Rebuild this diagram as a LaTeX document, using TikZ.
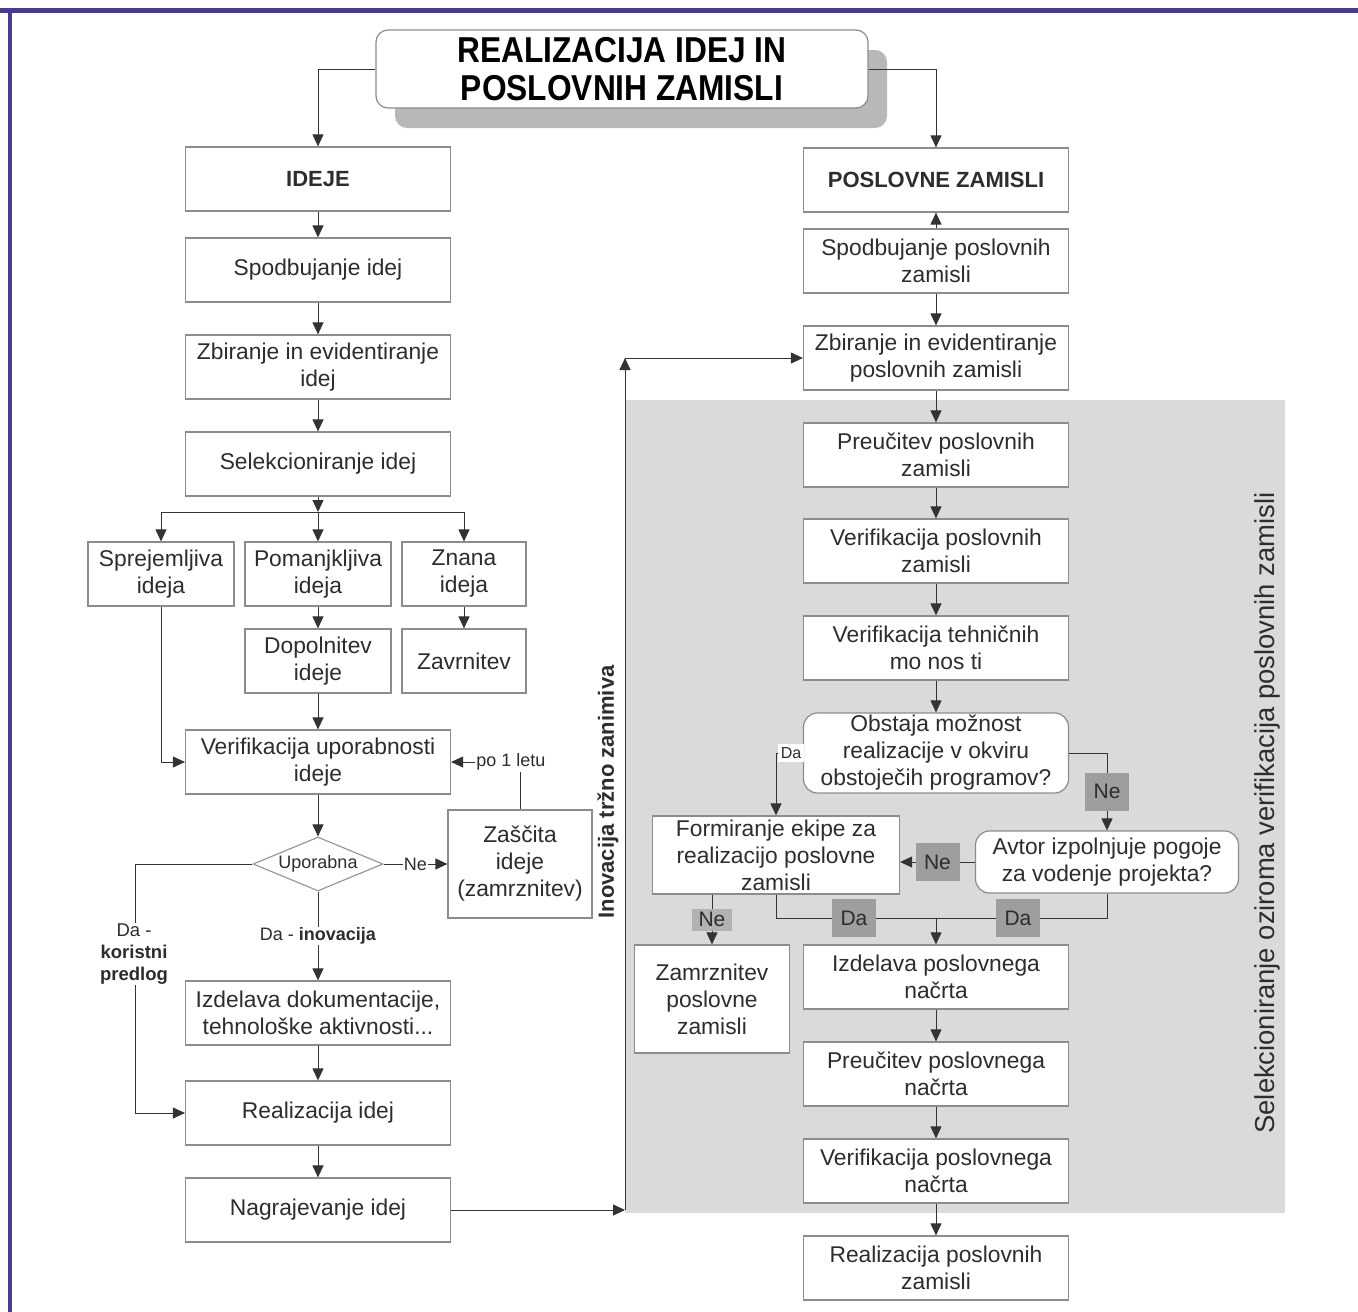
\documentclass[tikz,border=0pt]{standalone}
\usepackage{fontspec}
\setmainfont{Liberation Sans}
\newfontfamily\titlefont[FakeStretch=0.88]{Liberation Sans}
\usetikzlibrary{arrows.meta,shapes.geometric,shadows}
\definecolor{txt}{RGB}{45,45,45}
\definecolor{framecol}{RGB}{70,60,150}
\definecolor{panel}{RGB}{218,218,221}
\definecolor{taggray}{RGB}{158,158,158}
\begin{document}
\begin{tikzpicture}[x=1pt,y=-1pt,
    box/.style={draw=black!45,line width=1.2pt,fill=white,text=txt,align=center,
      minimum width=265pt,minimum height=64pt,inner sep=1pt,font=\fontsize{22.8}{27}\selectfont},
    sbox/.style={box,minimum width=146pt},
    rbox/.style={box,rounded corners=14pt},
    arr/.style={draw=black!80,line width=1pt,-{Triangle[width=11pt,length=12pt]}},
    con/.style={draw=black!80,line width=1pt},
    lab/.style={fill=white,text=txt,inner sep=1pt,font=\fontsize{18}{21}\selectfont},
    tag/.style={fill=taggray,text=txt,minimum width=44pt,minimum height=38pt,inner sep=1pt,
      font=\fontsize{21}{22}\selectfont}]
  \useasboundingbox (0,0) rectangle (1358,1312);
  \fill[white] (0,0) rectangle (1358,1312);
  \fill[panel] (625,400) rectangle (1285,1213);
  \draw[framecol,line width=5pt] (0,10) -- (1358,10);
  \draw[framecol,line width=4pt] (10,10) -- (10,1312);

  \node[draw=black!45,line width=1.2pt,fill=white,rounded corners=12pt,
    minimum width=492pt,minimum height=78pt,align=center,
    font=\titlefont\bfseries\fontsize{36}{38}\selectfont,
    drop shadow={shadow xshift=19pt,shadow yshift=-20pt,fill=black!28,opacity=1}]
    (title) at (622,69) {REALIZACIJA IDEJ IN\\POSLOVNIH ZAMISLI};

  \node[box,font=\bfseries\fontsize{22}{27}\selectfont] (ideje) at (318,179) {IDEJE};
  \node[box] (spi) at (318,270) {Spodbujanje idej};
  \node[box] (zbi) at (318,367) {Zbiranje in evidentiranje\\idej};
  \node[box] (sel) at (318,464) {Selekcioniranje idej};
  \node[sbox] (sprej) at (161,574) {Sprejemljiva\\ideja};
  \node[sbox] (pom) at (318,574) {Pomanjkljiva\\ideja};
  \node[box,minimum width=124pt] (znana) at (464,574) {Znana\\ideja};
  \node[sbox] (dop) at (318,661) {Dopolnitev\\ideje};
  \node[box,minimum width=124pt] (zav) at (464,661) {Zavrnitev};
  \node[box] (ver) at (318,762) {Verifikacija uporabnosti\\ideje};
  \node[diamond,draw=black!40,line width=1.2pt,fill=white,aspect=2.4,inner sep=1pt,
    minimum width=130pt,minimum height=54pt,text=txt,font=\fontsize{18}{20}\selectfont]
    (dia) at (318,864) {Uporabna};
  \node[box,minimum width=144pt,minimum height=108pt] (zas) at (520,864) {Zaščita\\ideje\\(zamrznitev)};
  \node[lab] (polet) at (511,762) {po 1 letu};
  \node[box] (izd) at (318,1013) {Izdelava dokumentacije,\\tehnološke aktivnosti...};
  \node[box] (real) at (318,1113) {Realizacija idej};
  \node[box] (nag) at (318,1210) {Nagrajevanje idej};

  \node[box,font=\bfseries\fontsize{22}{27}\selectfont] (pz) at (936,180) {POSLOVNE ZAMISLI};
  \node[box] (spz) at (936,261) {Spodbujanje poslovnih\\zamisli};
  \node[box] (zpz) at (936,358) {Zbiranje in evidentiranje\\poslovnih zamisli};
  \node[box] (prz) at (936,455) {Preučitev poslovnih\\zamisli};
  \node[box] (vpz) at (936,551) {Verifikacija poslovnih\\zamisli};
  \node[box] (vtm) at (936,648) {Verifikacija tehničnih\\mo nos ti};
  \node[rbox,minimum height=80pt] (obs) at (936,753) {Obstaja možnost\\realizacije v okviru\\obstoječih programov?};
  \node[rbox,minimum width=263pt,minimum height=62pt] (avt) at (1107,862) {Avtor izpolnjuje pogoje\\za vodenje projekta?};
  \node[box,minimum width=247pt,minimum height=78pt] (form) at (776,855) {Formiranje ekipe za\\realizacijo poslovne\\zamisli};
  \node[box,minimum width=155pt,minimum height=108pt] (zam) at (712,999) {Zamrznitev\\poslovne\\zamisli};
  \node[box] (izp) at (936,977) {Izdelava poslovnega\\načrta};
  \node[box] (prp) at (936,1074) {Preučitev poslovnega\\načrta};
  \node[box] (vpp) at (936,1171) {Verifikacija poslovnega\\načrta};
  \node[box] (rpz) at (936,1268) {Realizacija poslovnih\\zamisli};

  \node[rotate=90,text=txt,font=\bfseries\fontsize{22}{24}\selectfont] (inov) at (608,792) {Inovacija tržno zanimiva};
  \node[rotate=90,text=txt,font=\fontsize{27.4}{30}\selectfont] (selv) at (1267,813) {Selekcioniranje oziroma verifikacija poslovnih zamisli};

  \draw[arr] (title.west) -| (ideje.north);
  \draw[arr] (title.east) -| (pz.north);
  \draw[arr] (ideje) -- (spi);
  \draw[arr] (spi) -- (zbi);
  \draw[arr] (zbi) -- (sel);
  \coordinate (br) at (318,512);
  \draw[arr] (sel) -- (br);
  \draw[arr] (br) -| (sprej.north);
  \draw[arr] (br) -| (znana.north);
  \draw[arr] (br) -- (pom.north);
  \draw[arr] (pom) -- (dop);
  \draw[arr] (znana) -- (zav);
  \draw[arr] (dop) -- (ver);
  \draw[arr] (sprej.south) |- (ver.west);
  \draw[arr] (ver) -- (dia);
  \draw[arr] (dia.east) -- node[lab]{Ne} (zas.west);
  \draw[con] (zas.north) -- (zas.north |- polet.south);
  \draw[arr] (polet.west) -- (ver.east);
  \coordinate (dl) at (135,864);
  \draw[arr] (dia.west) -- (dl) |- (real.west);
  \node[lab,align=center,font=\fontsize{18.5}{22}\selectfont] (dakor) at (134,954) {Da -\\\textbf{koristni}\\\textbf{predlog}};
  \draw[arr] (dia.south) -- node[lab]{Da - \textbf{inovacija}} (izd.north);
  \draw[arr] (izd) -- (real);
  \draw[arr] (real) -- (nag);
  \coordinate (inb) at (625,1210);
  \coordinate (int) at (625,358);
  \draw[arr] (nag.east) -- (inb);
  \draw[arr] (inb) -- (int);
  \draw[arr] (int) -- (zpz.west);

  \draw[arr] (spz) -- (pz);
  \draw[arr] (spz) -- (zpz);
  \draw[arr] (zpz) -- (prz);
  \draw[arr] (prz) -- (vpz);
  \draw[arr] (vpz) -- (vtm);
  \draw[arr] (vtm) -- (obs);
  \draw[arr] (obs.west) -| node[lab,pos=0.22,inner sep=3pt,font=\fontsize{16}{17}\selectfont]{Da} (form.north);
  \draw[arr] (obs.east) -| node[tag,pos=0.75]{Ne} (avt.north);
  \draw[arr] (avt.west) -- node[tag]{Ne} (avt.west -| form.east);
  \coordinate (jn) at (936,918);
  \draw[con] (form.south) |- (jn) -| (avt.south);
  \node[tag] (da1) at (854,918) {Da};
  \node[tag] (da2) at (1018,918) {Da};
  \draw[arr] (jn) -- (izp);
  \draw[arr] (form.south -| zam.north) -- node[tag,fill=black!30,minimum width=40pt,minimum height=22pt]{Ne} (zam.north);
  \draw[arr] (izp) -- (prp);
  \draw[arr] (prp) -- (vpp);
  \draw[arr] (vpp) -- (rpz);
\end{tikzpicture}
\end{document}
